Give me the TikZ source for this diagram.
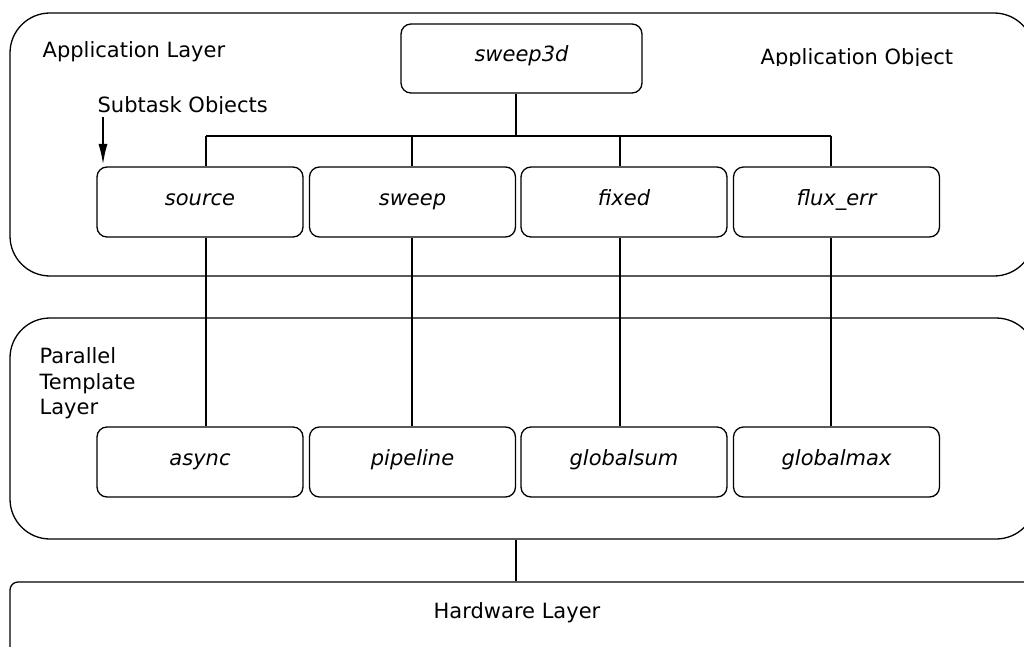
\documentclass[tikz,border=0pt]{standalone}
\usepackage{fontspec}
\setmainfont{DejaVu Sans}
\usetikzlibrary{arrows.meta}
\begin{document}
\begin{tikzpicture}[x=1pt,y=-1pt,line width=1.3pt,
  layerbox/.style={draw,inner sep=0pt,rounded corners=40pt},
  objbox/.style={draw,rounded corners=10pt,minimum width=206pt,minimum height=70pt,
    inner sep=0pt,font=\fontsize{21}{25}\selectfont\itshape,text height=13pt,text depth=6pt},
  lbl/.style={font=\fontsize{21}{25.5}\selectfont,inner sep=0pt,anchor=base west},
  wire/.style={line width=1.3pt}]
\useasboundingbox (0,0) rectangle (1024,647);
\clip (0,0) rectangle (1024,647);

% the three layers
\node[layerbox,minimum width=1024pt,minimum height=263pt] (app) at (522,144.5) {};
\node[layerbox,minimum width=1026pt,minimum height=221pt] (par) at (523,428.5) {};
\node[layerbox,rounded corners=8pt,minimum width=1030pt,minimum height=118pt] (hw) at (525,641) {};

% layer titles
\node[lbl] (appl) at (42,58) {Application Layer};
\node[lbl,align=left,anchor=north west] (parl) at (39,347) {Parallel\\Template\\Layer};
\node[lbl,anchor=base] (hwl) at (517,618) {Hardware Layer};

% captions trimmed at their baselines
\begin{scope}
  \clip (700,30) rectangle (1000,65.5);
  \node[lbl] (aobj) at (760,65) {Application Object};
\end{scope}
\begin{scope}
  \clip (80,80) rectangle (300,113.5);
  \node[lbl] (subl) at (97,113) {Subtask Objects};
\end{scope}
\coordinate (arrA) at (103,117);
\coordinate (arrB) at (103,164);
\draw[wire,-{Latex[length=20pt,width=9pt]}] (arrA) -- (arrB);

% application object and its subtasks
\node[objbox,minimum width=241pt,minimum height=69pt] (top) at (521.5,58.5) {sweep3d};
\node[objbox] (src) at (200,202) {source};
\node[objbox] (swp) at (412.5,202) {sweep};
\node[objbox] (fix) at (624,202) {fixed};
\node[objbox] (flx) at (836.5,202) {flux\_err};

% parallel templates
\node[objbox] (asy) at (200,462) {async};
\node[objbox] (pip) at (412.5,462) {pipeline};
\node[objbox] (gsm) at (624,462) {globalsum};
\node[objbox] (gmx) at (836.5,462) {globalmax};

% bus columns
\coordinate (c1) at (206,136);
\coordinate (c2) at (412,136);
\coordinate (c3) at (620,136);
\coordinate (c4) at (831,136);

\draw[wire] (top.south -| 516,0) -- (516,136);
\draw[wire] (c1) -- (c4);
\draw[wire] (c1) -- (c1 |- src.north);
\draw[wire] (c2) -- (c2 |- swp.north);
\draw[wire] (c3) -- (c3 |- fix.north);
\draw[wire] (c4) -- (c4 |- flx.north);

\draw[wire] (c1 |- src.south) -- (c1 |- asy.north);
\draw[wire] (c2 |- swp.south) -- (c2 |- pip.north);
\draw[wire] (c3 |- fix.south) -- (c3 |- gsm.north);
\draw[wire] (c4 |- flx.south) -- (c4 |- gmx.north);

\coordinate (hwc) at (516,0);
\draw[wire] (hwc |- par.south) -- (hwc |- hw.north);
\end{tikzpicture}
\end{document}
